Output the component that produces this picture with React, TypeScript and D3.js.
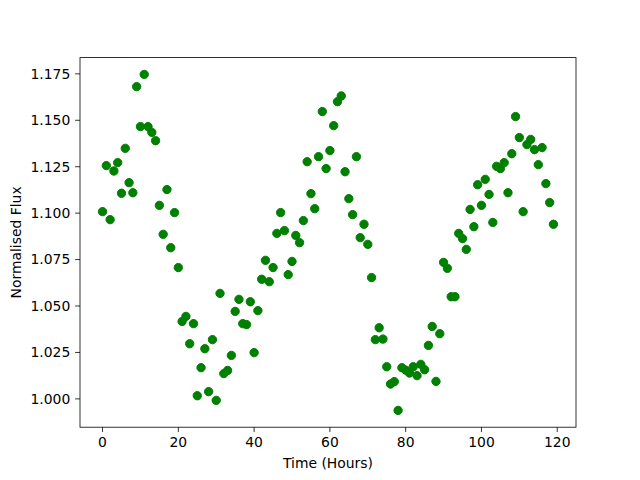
import React from "react";
import * as d3 from "d3";

// observation time, hours
const hours = [
  0, 1, 2, 3, 4, 5, 6, 7, 8, 9, 10, 11, 12, 13, 14, 15, 16, 17, 18, 19,
  20, 21, 22, 23, 24, 25, 26, 27, 28, 29, 30, 31, 32, 33, 34, 35, 36, 37, 38, 39,
  40, 41, 42, 43, 44, 45, 46, 47, 48, 49, 50, 51, 52, 53, 54, 55, 56, 57, 58, 59,
  60, 61, 62, 63, 64, 65, 66, 67, 68, 69, 70, 71, 72, 73, 74, 75, 76, 77, 78, 79,
  80, 81, 82, 83, 84, 85, 86, 87, 88, 89, 90, 91, 92, 93, 94, 95, 96, 97, 98, 99,
  100, 101, 102, 103, 104, 105, 106, 107, 108, 109, 110, 111, 112, 113, 114, 115, 116, 117, 118, 119,
];

// normalised flux at each hour
const flux = [
  1.1008, 1.1256, 1.0965, 1.1227, 1.1272, 1.1107, 1.1349, 1.1164, 1.111, 1.1681,
  1.1466, 1.1747, 1.1466, 1.1435, 1.139, 1.1042, 1.0886, 1.1127, 1.0814, 1.1003,
  1.0707, 1.0417, 1.0444, 1.0297, 1.0405, 1.0017, 1.0168, 1.027, 1.0039, 1.0319,
  0.9992, 1.0568, 1.0136, 1.0153, 1.0234, 1.0471, 1.0536, 1.0405, 1.04, 1.0523,
  1.0249, 1.0475, 1.0644, 1.0746, 1.0631, 1.0707, 1.0891, 1.1003, 1.0906, 1.0669,
  1.074, 1.088, 1.0841, 1.096, 1.1277, 1.1105, 1.1024, 1.1304, 1.1547, 1.124,
  1.1337, 1.1471, 1.16, 1.1631, 1.1223, 1.1078, 1.0992, 1.1304, 1.0868, 1.094,
  1.0832, 1.0653, 1.0319, 1.0383, 1.0322, 1.0173, 1.008, 1.0093, 0.9938, 1.0168,
  1.0155, 1.0139, 1.0173, 1.0125, 1.0186, 1.0157, 1.0288, 1.039, 1.0094, 1.0351,
  1.0735, 1.0703, 1.055, 1.055, 1.0891, 1.0863, 1.0805, 1.102, 1.0927, 1.1153,
  1.1042, 1.1182, 1.1101, 1.095, 1.1252, 1.124, 1.1272, 1.111, 1.132, 1.152,
  1.1407, 1.1008, 1.1369, 1.1397, 1.1342, 1.1261, 1.1353, 1.1159, 1.1057, 1.094,
];

const xTicks = [0, 20, 40, 60, 80, 100, 120];
const yTicks = [1.0, 1.025, 1.05, 1.075, 1.1, 1.125, 1.15, 1.175];

const W = 640;
const H = 480;
const left = 80;
const right = 576;
const top = 57.6;
const bottom = 427.2;
const font = "DejaVu Sans, sans-serif";
const fs = 13.9;

// matplotlib style 5% margins
function padded(vals: number[]) {
  const [lo, hi] = d3.extent(vals) as [number, number];
  const m = (hi - lo) * 0.05;
  return [lo - m, hi + m];
}

export default function App() {
  const x = d3.scaleLinear().domain(padded(hours)).range([left, right]);
  const y = d3.scaleLinear().domain(padded(flux)).range([bottom, top]);
  const fmt = d3.format(".3f");

  return (
    <svg
      width={W}
      height={H}
      style={{ position: "absolute", left: 0, top: 0, background: "#fff" }}
      fontFamily={font}
    >
      <rect x={0} y={0} width={W} height={H} fill="#fff" />

      {/* points */}
      <g>
        {hours.map((h, i) => (
          <circle
            key={i}
            cx={x(h)}
            cy={y(flux[i])}
            r={4.17}
            fill="#008000"
            stroke="#008000"
            strokeWidth={1}
          />
        ))}
      </g>

      {/* frame */}
      <rect
        x={left}
        y={top}
        width={right - left}
        height={bottom - top}
        fill="none"
        stroke="#000"
        strokeWidth={0.8}
      />

      {/* x axis */}
      <g>
        {xTicks.map((t) => (
          <g key={t} transform={`translate(${x(t)},${bottom})`}>
            <line y2={4.86} stroke="#000" strokeWidth={0.8} />
            <text
              y={9.72}
              dy="0.76em"
              textAnchor="middle"
              fontSize={fs}
              fill="#000"
            >
              {t}
            </text>
          </g>
        ))}
        <text
          x={(left + right) / 2}
          y={468}
          textAnchor="middle"
          fontSize={fs}
          fill="#000"
        >
          Time (Hours)
        </text>
      </g>

      {/* y axis */}
      <g>
        {yTicks.map((t) => (
          <g key={t} transform={`translate(${left},${y(t)})`}>
            <line x2={-4.86} stroke="#000" strokeWidth={0.8} />
            <text
              x={-9.72}
              dy="0.35em"
              textAnchor="end"
              fontSize={fs}
              fill="#000"
            >
              {fmt(t)}
            </text>
          </g>
        ))}
        <text
          transform={`translate(21,${(top + bottom) / 2}) rotate(-90)`}
          textAnchor="middle"
          fontSize={fs}
          fill="#000"
        >
          Normalised Flux
        </text>
      </g>
    </svg>
  );
}
